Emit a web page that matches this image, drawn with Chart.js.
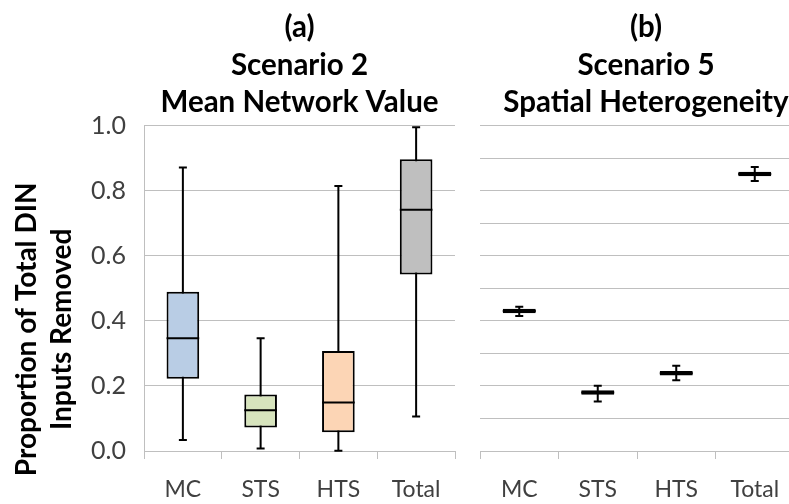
<!DOCTYPE html>
<html>
<head>
<meta charset="utf-8">
<script src="https://cdn.jsdelivr.net/npm/chart.js@4.4.0/dist/chart.umd.min.js"></script>
<style>
    html, body { margin: 0; padding: 0; background: #fff; overflow: hidden; }
    #wrap { position: relative; width: 789px; height: 504px; overflow: hidden; }
    #chart-a { position: absolute; left: 0; top: 0; }
    #chart-b { position: absolute; left: 480px; top: 0; }
</style>
</head>
<body>
<div id="wrap">
    <canvas id="chart-a" width="470" height="504"></canvas>
    <canvas id="chart-b" width="332" height="504"></canvas>
</div>
<script>
const categories = ['MC', 'STS', 'HTS', 'Total'];

// panel (a) - Scenario 2, Mean Network Value
const aMin = [0.034, 0.008, 0.001, 0.106];
const aQ1 = [0.222, 0.072, 0.058, 0.543];
const aMedian = [0.347, 0.125, 0.149, 0.742];
const aQ3 = [0.490, 0.174, 0.308, 0.898];
const aMax = [0.872, 0.347, 0.815, 0.996];
const aColors = ['#b9cde5', '#d7e4bd', '#fcd5b5', '#bfbfbf'];

// panel (b) - Scenario 5, Spatial Heterogeneity
const bMin = [0.415, 0.152, 0.218, 0.831];
const bQ1 = [0.424, 0.173, 0.232, 0.845];
const bMedian = [0.431, 0.180, 0.239, 0.852];
const bQ3 = [0.438, 0.187, 0.246, 0.859];
const bMax = [0.444, 0.201, 0.262, 0.874];

const yTickLabels = ['0.0', '0.2', '0.4', '0.6', '0.8', '1.0'];

const gridColor = '#bfbfbf';
const textColor = '#404040';

// whiskers and median lines, placed with the chart's own scales
const boxPlugin = {
    id: 'boxWhiskers',
    beforeDatasetsDraw(chart) {
        const opts = chart.options.plugins.boxWhiskers;
        const x = chart.scales.x, y = chart.scales.y;
        const ctx = chart.ctx;
        ctx.save();
        ctx.strokeStyle = '#000';
        ctx.lineWidth = 2;
        opts.min.forEach(function (v, i) {
            const px = x.getPixelForValue(i);
            const top = y.getPixelForValue(opts.max[i]);
            const bottom = y.getPixelForValue(v);
            ctx.beginPath();
            ctx.moveTo(px, top);
            ctx.lineTo(px, bottom);
            ctx.moveTo(px - 4, top);
            ctx.lineTo(px + 4, top);
            ctx.moveTo(px - 4, bottom);
            ctx.lineTo(px + 4, bottom);
            ctx.stroke();
        });
        ctx.restore();
    },
    afterDatasetsDraw(chart) {
        const opts = chart.options.plugins.boxWhiskers;
        const y = chart.scales.y;
        const meta = chart.getDatasetMeta(0);
        const ctx = chart.ctx;
        ctx.save();
        ctx.strokeStyle = '#000';
        ctx.lineWidth = 2;
        opts.median.forEach(function (v, i) {
            const bar = meta.data[i];
            const py = y.getPixelForValue(v);
            ctx.beginPath();
            ctx.moveTo(bar.x - bar.width / 2, py);
            ctx.lineTo(bar.x + bar.width / 2, py);
            ctx.stroke();
        });
        ctx.restore();
    }
};

function createBoxChart(ctx, cfg) {
    const boxes = cfg.q1.map((v, i) => [v, cfg.q3[i]]);
    return new Chart(ctx, {
        type: 'bar',
        data: {
            labels: categories,
            datasets: [{
                data: boxes,
                backgroundColor: cfg.colors,
                borderColor: '#000',
                borderWidth: 2,
                borderSkipped: false,
                categoryPercentage: 1,
                barPercentage: 0.42
            }]
        },
        plugins: [boxPlugin],
        options: {
            responsive: false,
            animation: false,
            layout: { padding: cfg.padding },
            plugins: {
                legend: { display: false },
                tooltip: { enabled: false },
                title: {
                    display: true,
                    text: cfg.title,
                    fullSize: cfg.titleFull,
                    color: '#000',
                    font: { family: 'Lato', size: 29.5, weight: 'bold', lineHeight: 1.27 },
                    padding: { top: 9, bottom: 4.6 }
                },
                boxWhiskers: { min: cfg.min, median: cfg.median, max: cfg.max }
            },
            scales: {
                x: {
                    grid: {
                        offset: true,
                        drawOnChartArea: false,
                        drawTicks: true,
                        tickLength: 8,
                        color: gridColor
                    },
                    border: { display: true, color: gridColor, width: 1 },
                    ticks: {
                        color: textColor,
                        padding: 17,
                        font: { family: 'Lato', size: 23 }
                    },
                    afterFit: function (scale) { scale.height = 53; }
                },
                y: cfg.yScale
            }
        }
    });
}

const chartA = createBoxChart(document.getElementById('chart-a'), {
    title: ['(a)', 'Scenario 2', 'Mean Network Value'],
    titleFull: false,
    padding: { right: 15 },
    min: aMin, q1: aQ1, median: aMedian, q3: aQ3, max: aMax,
    colors: aColors,
    yScale: {
        min: 0,
        max: 1,
        ticks: {
            stepSize: 0.1,
            color: textColor,
            padding: 18,
            font: { family: 'Lato', size: 25 },
            callback: function (value) {
                const k = Math.round(value * 10);
                return k % 2 === 0 ? yTickLabels[k / 2] : '';
            }
        },
        grid: { color: gridColor, drawTicks: false },
        border: { display: true, color: gridColor, width: 1 },
        title: {
            display: true,
            text: ['Proportion of Total DIN            ', 'Inputs Removed            '],
            color: '#000',
            font: { family: 'Lato', size: 28, weight: 'bold', lineHeight: 1.25 },
            padding: { top: 9.5, bottom: 0 }
        },
        afterFit: function (scale) { scale.width = 144; }
    }
});

const chartB = createBoxChart(document.getElementById('chart-b'), {
    title: ['(b)', 'Scenario 5', 'Spatial Heterogeneity'],
    titleFull: true,
    padding: 0,
    min: bMin, q1: bQ1, median: bMedian, q3: bQ3, max: bMax,
    colors: ['#000', '#000', '#000', '#000'],
    yScale: {
        position: 'right',
        min: 0,
        max: 1,
        ticks: { stepSize: 0.1, display: false },
        grid: { color: gridColor, drawTicks: false },
        border: { display: false },
        afterFit: function (scale) { scale.width = 18; }
    }
});
</script>
</body>
</html>
